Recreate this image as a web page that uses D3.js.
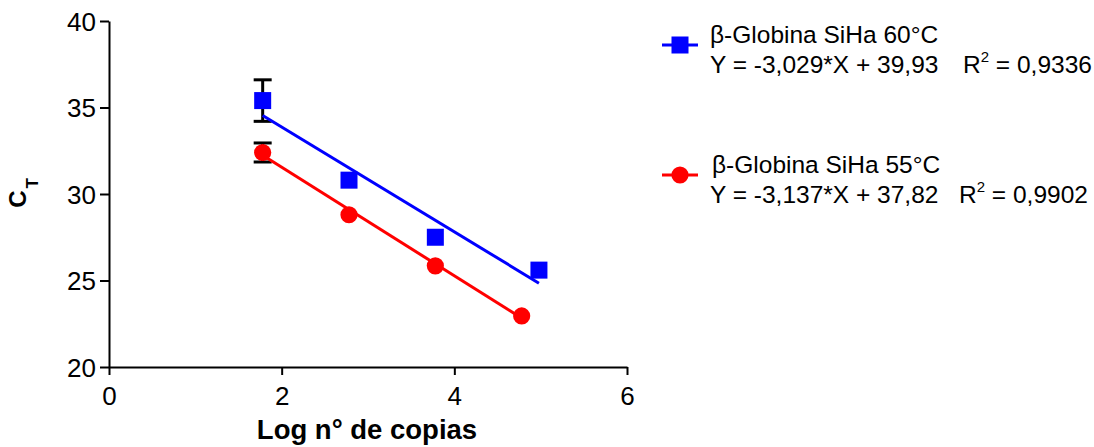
<!DOCTYPE html>
<html>
<head>
<meta charset="utf-8">
<script src="https://cdn.jsdelivr.net/npm/d3@7"></script>
<style>
  html, body { margin: 0; padding: 0; background: #fff; }
  svg { display: block; font-family: "Liberation Sans", Arial, Helvetica, sans-serif; }
</style>
</head>
<body>
<svg id="chart" width="1094" height="447"></svg>
<script>
// Standard curves: Ct versus log copy number for two annealing temperatures
const seriesNames = ["β-Globina SiHa 60°C", "β-Globina SiHa 55°C"];
const logCopies60 = [1.78, 2.78, 3.78, 4.98];
const ct60 = [35.4, 30.8, 27.5, 25.6];
const err60 = [1.2, 0, 0, 0];
const logCopies55 = [1.78, 2.78, 3.78, 4.78];
const ct55 = [32.4, 28.8, 25.85, 22.95];
const err55 = [0.55, 0, 0, 0];
// Linear fit parameters (slope, intercept, R²)
const slopes = [-3.029, -3.137];
const intercepts = [39.93, 37.82];
const r2Values = ["0,9336", "0,9902"];
const equationTexts = ["Y = -3,029*X + 39,93", "Y = -3,137*X + 37,82"];
const xTicks = [0, 2, 4, 6];
const yTicks = [20, 25, 30, 35, 40];

const svg = d3.select("#chart");
const x = d3.scaleLinear().domain([0, 6]).range([109, 627]);
const y = d3.scaleLinear().domain([20, 40]).range([367, 21]);

// Axes
const yAxis = svg.append("g")
  .attr("transform", `translate(${x(0)},0)`)
  .call(d3.axisLeft(y).tickValues(yTicks).tickFormat(d3.format("d"))
    .tickSize(9).tickPadding(4).tickSizeOuter(0));
const xAxis = svg.append("g")
  .attr("transform", `translate(0,${y(20)})`)
  .call(d3.axisBottom(x).tickValues(xTicks).tickFormat(d3.format("d"))
    .tickSize(8).tickPadding(12).tickSizeOuter(0));
[xAxis, yAxis].forEach(g => {
  g.select(".domain").attr("stroke", "#000").attr("stroke-width", 2);
  g.selectAll(".tick line").attr("stroke", "#000").attr("stroke-width", 2);
  g.selectAll(".tick text").attr("fill", "#000").style("font-size", "26px")
    .style("font-family", "'Liberation Sans', Arial, sans-serif");
});
yAxis.selectAll(".tick text").attr("dy", "0.36em");

// Axis titles
svg.append("text")
  .attr("x", (x(0) + x(6)) / 2 - 1)
  .attr("y", 439)
  .attr("text-anchor", "middle")
  .style("font-size", "27.5px").style("font-weight", "bold")
  .text("Log n° de copias");

const yTitle = svg.append("text")
  .attr("transform", `translate(26,193) rotate(-90)`)
  .attr("text-anchor", "middle")
  .style("font-weight", "bold");
yTitle.append("tspan").style("font-size", "24px").text("C");
yTitle.append("tspan").style("font-size", "17px").attr("dx", 2).attr("dy", 12).text("T");

const series = [
  { xs: logCopies60, ys: ct60, errs: err60, color: "#0000ff", shape: "square" },
  { xs: logCopies55, ys: ct55, errs: err55, color: "#ff0000", shape: "circle" }
];

// Error bars
series.forEach(s => {
  s.xs.forEach((xv, i) => {
    const e = s.errs[i];
    if (!e) return;
    const g = svg.append("g").attr("stroke", "#000").attr("stroke-width", 3);
    g.append("line").attr("x1", x(xv)).attr("x2", x(xv)).attr("y1", y(s.ys[i] + e)).attr("y2", y(s.ys[i] - e));
    [s.ys[i] + e, s.ys[i] - e].forEach(v => {
      g.append("line").attr("x1", x(xv) - 9).attr("x2", x(xv) + 9).attr("y1", y(v)).attr("y2", y(v));
    });
  });
});

// Regression lines across each series' data range
series.forEach((s, k) => {
  const x0 = d3.min(s.xs), x1 = d3.max(s.xs);
  svg.append("line")
    .attr("x1", x(x0)).attr("y1", y(slopes[k] * x0 + intercepts[k]))
    .attr("x2", x(x1)).attr("y2", y(slopes[k] * x1 + intercepts[k]))
    .attr("stroke", s.color).attr("stroke-width", 3);
});

function drawMarker(g, shape, cx, cy, color) {
  if (shape === "square") {
    g.append("rect").attr("x", cx - 8.5).attr("y", cy - 8.5).attr("width", 17).attr("height", 17).attr("fill", color);
  } else {
    g.append("circle").attr("cx", cx).attr("cy", cy).attr("r", 8.6).attr("fill", color);
  }
}

// Data markers
series.forEach(s => {
  const g = svg.append("g");
  s.xs.forEach((xv, i) => drawMarker(g, s.shape, x(xv), y(s.ys[i]), s.color));
});

// Legend
const legendY = [45, 175];
series.forEach((s, k) => {
  const ly = legendY[k];
  svg.append("line").attr("x1", 662).attr("x2", 698).attr("y1", ly).attr("y2", ly)
    .attr("stroke", s.color).attr("stroke-width", 3);
  drawMarker(svg, s.shape, 680, ly, s.color);
  svg.append("text").attr("x", k === 0 ? 710 : 712).attr("y", ly - 2)
    .style("font-size", "24.5px").text(seriesNames[k]);
  svg.append("text").attr("x", 710).attr("y", ly + 28)
    .style("font-size", "24.5px").text(equationTexts[k]);
  const r = svg.append("text").attr("x", k === 0 ? 963 : 959).attr("y", ly + 28)
    .style("font-size", "24.5px");
  r.append("tspan").text("R");
  r.append("tspan").style("font-size", "15px").attr("dy", -11).text("2");
  r.append("tspan").attr("dy", 11).text(" = " + r2Values[k]);
});
</script>
</body>
</html>
